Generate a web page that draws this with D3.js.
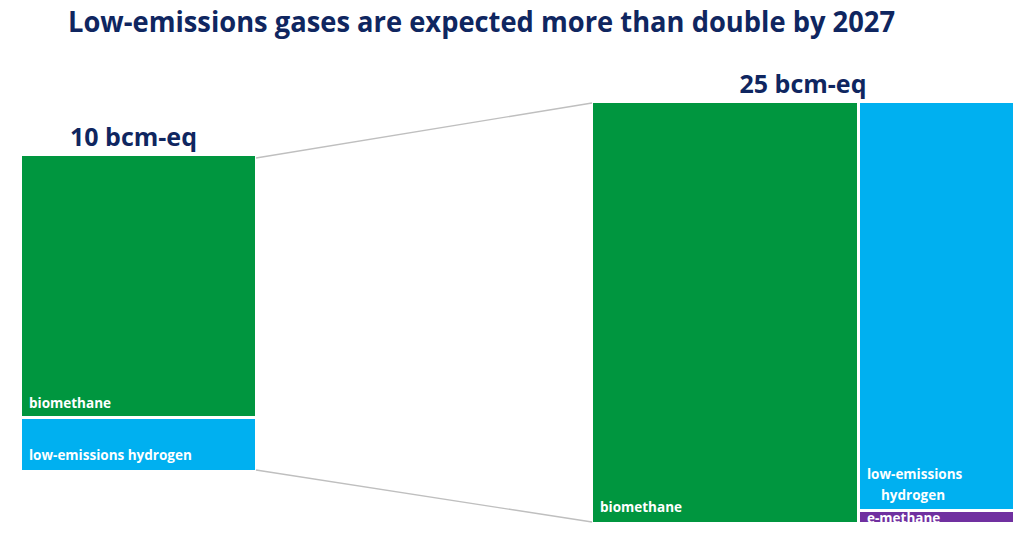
<!DOCTYPE html>
<html><head><meta charset="utf-8">
<script src="https://cdn.jsdelivr.net/npm/d3@7"></script>
<style>html,body{margin:0;padding:0;background:#fff;}svg{display:block;}</style>
</head><body>
<svg id="c" width="1024" height="541"></svg>
<script>
const title = "Low-emissions gases are expected more than double by 2027";
const periods = ["2021", "2027"];
const totalLabels = ["10 bcm-eq", "25 bcm-eq"];
const categories = ["biomethane", "low-emissions hydrogen", "e-methane"];
const values2021 = [8.3, 1.7, 0];
const values2027 = [15.8, 8.92, 0.28];

const colors = {"biomethane":"#00963f","low-emissions hydrogen":"#00b0f0","e-methane":"#7030a0"};
const svg = d3.select("#c");
const navy = "#0f2660";

svg.append("text").attr("x", 68).attr("y", 32)
  .attr("font-family", "'Open Sans', sans-serif").attr("font-weight", 700)
  .attr("font-size", 29).attr("fill", navy)
  .attr("textLength", 827).attr("lengthAdjust", "spacingAndGlyphs")
  .text(title);

// block extents (layout)
const blocks = [
  {x0: 22, y0: 156, x1: 255, y1: 470, tile: d3.treemapSlice, pad: 3},
  {x0: 593, y0: 103, x1: 1013, y1: 522, tile: d3.treemapSliceDice, pad: 3}
];

function buildTree(vals, grouped) {
  if (!grouped) {
    return {name: "root", children: categories.map((c,i)=>({name:c, value: vals[i]})).filter(d=>d.value>0)};
  }
  return {name:"root", children:[
    {name: categories[0], value: vals[0]},
    {name: "other", children: [
      {name: categories[1], value: vals[1]},
      {name: categories[2], value: vals[2]}
    ]}
  ]};
}

const defs = svg.append("defs");
const gLines = svg.append("g");
const placed = [];

[values2021, values2027].forEach((vals, bi) => {
  const b = blocks[bi];
  const root = d3.hierarchy(buildTree(vals, bi === 1)).sum(d => d.value || 0);
  d3.treemap().size([b.x1 - b.x0, b.y1 - b.y0]).tile(b.tile).paddingInner(b.pad).round(true)(root);
  const g = svg.append("g").attr("transform", `translate(${b.x0},${b.y0})`);
  const leaves = root.leaves();
  leaves.forEach((d, i) => {
    const id = `clip-${bi}-${i}`;
    defs.append("clipPath").attr("id", id).append("rect")
      .attr("x", b.x0 + d.x0).attr("y", b.y0 + d.y0).attr("width", d.x1 - d.x0).attr("height", d.y1 - d.y0);
    g.append("rect").attr("x", d.x0).attr("y", d.y0)
      .attr("width", d.x1 - d.x0).attr("height", d.y1 - d.y0)
      .attr("fill", colors[d.data.name]);
    const name = d.data.name;
    const t = svg.append("text")
      .attr("clip-path", `url(#${id})`)
      .attr("font-family", "'Open Sans', sans-serif").attr("font-weight", 700)
      .attr("font-size", 13.5).attr("fill", "#fff");
    const lx = b.x0 + d.x0 + 7;
    if (bi === 1 && name === "low-emissions hydrogen") {
      t.append("tspan").attr("x", lx).attr("y", b.y0 + d.y1 - 30).text("low-emissions");
      t.append("tspan").attr("x", lx + 14).attr("y", b.y0 + d.y1 - 9).text("hydrogen");
    } else if (name === "e-methane") {
      t.attr("x", lx).attr("y", b.y0 + d.y1 + 1).text(name);
    } else {
      const off = (bi === 0 && name === "biomethane") ? 8 : 10;
      t.attr("x", lx).attr("y", b.y0 + d.y1 - off).text(name);
    }
  });
  svg.append("text")
    .attr("x", (b.x0 + b.x1) / 2 - (bi === 0 ? 5 : 0)).attr("y", b.y0 - 10)
    .attr("text-anchor", "middle")
    .attr("font-family", "'Open Sans', sans-serif").attr("font-weight", 700)
    .attr("font-size", 25).attr("fill", navy)
    .text(totalLabels[bi]);
  placed.push(b);
});

const L = placed[0], R = placed[1];
const line = d3.line();
gLines.append("path").attr("d", line([[L.x1 + 1, L.y0 + 2], [R.x0 - 1, R.y0]]))
  .attr("stroke", "#bfbfbf").attr("stroke-width", 1.3).attr("fill", "none");
gLines.append("path").attr("d", line([[L.x1 + 1, L.y1], [R.x0 - 1, R.y1]]))
  .attr("stroke", "#bfbfbf").attr("stroke-width", 1.3).attr("fill", "none");
</script>
</body></html>
